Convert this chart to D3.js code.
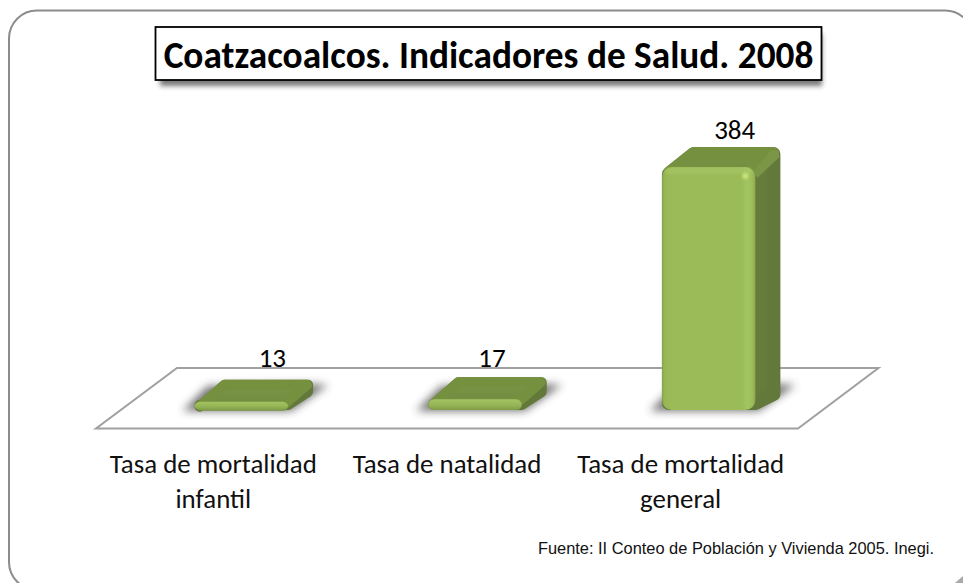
<!DOCTYPE html>
<html><head><meta charset="utf-8">
<script src="https://cdn.jsdelivr.net/npm/d3@7"></script>
<style>html,body{margin:0;padding:0;background:#fff;overflow:hidden}svg{display:block}</style>
</head><body><svg id="c" width="963" height="583"></svg>
<script>
const chartTitle = "Coatzacoalcos. Indicadores de Salud. 2008";
const categories = ["Tasa de mortalidad infantil", "Tasa de natalidad", "Tasa de mortalidad general"];
const categoryLines = [["Tasa de mortalidad","infantil"],["Tasa de natalidad"],["Tasa de mortalidad","general"]];
const values = [13, 17, 384];
const sourceNote = "Fuente: II Conteo de Población y Vivienda 2005. Inegi.";

const font = "Carlito, Calibri, Lato, 'Open Sans', sans-serif";
const svg = d3.select("#c");
const x = d3.scaleBand().domain(categories).range([124.5, 825.5]).paddingInner(0.6).paddingOuter(0.3);
const y = d3.scaleLinear().domain([0, 384]).range([410, 167]);
const dx = 25, dy = -20;
const labelShift = [31, 17, 26];

const defs = svg.append("defs");
const blur = (id, s) => defs.append("filter").attr("id", id).attr("x","-30%").attr("y","-60%").attr("width","160%").attr("height","220%")
  .append("feGaussianBlur").attr("stdDeviation", s);
blur("b4", 4.5); blur("b2", 2.4); blur("b1", 1); blur("soft", 0.45);
const grad = (id, stops, x2=1, y2=0) => {
  const g = defs.append("linearGradient").attr("id", id).attr("x1",0).attr("y1",0).attr("x2",x2).attr("y2",y2);
  stops.forEach(([o,c]) => g.append("stop").attr("offset",o).attr("stop-color",c));
};
grad("front", [[0,"#86a34c"],[0.03,"#98b758"],[0.1,"#9bbb59"],[0.85,"#9bbb59"],[0.92,"#a3c562"],[0.97,"#9cbc5a"],[1,"#88a64e"]]);
grad("side", [[0,"#5f7536"],[0.5,"#64793a"],[1,"#667c3c"]]);
grad("top", [[0,"#7a9646"],[1,"#718a40"]], 0, 1);
grad("cap", [[0,"#a5c361"],[0.6,"#94b354"],[1,"#7f9c48"]], 0, 1);

// frame (runs past the right and bottom of the picture)
svg.append("rect").attr("x",9).attr("y",10.5).attr("width",964).attr("height",579.5).attr("rx",28)
  .attr("fill","#fff").attr("stroke","#8c8c8c").attr("stroke-width",2);
svg.append("path").attr("d","M963 576 L963 583 L955 583 Z").attr("fill","#8c8c8c").attr("opacity",.75);

// title
svg.append("rect").attr("x",160).attr("y",34).attr("width",662).attr("height",52).attr("fill","#222").attr("opacity",.6).attr("filter","url(#b2)");
svg.append("rect").attr("x",155.5).attr("y",27).attr("width",666).attr("height",53).attr("fill","#fff").attr("stroke","#000").attr("stroke-width",1.8);
svg.append("text").attr("x",488.5).attr("y",68).attr("text-anchor","middle").attr("font-family",font).attr("font-weight",700).attr("font-size",37.3).attr("fill","#000").text(chartTitle);

// floor
svg.append("path").attr("d",d3.line()([[177,368],[878.5,368],[798,428.5],[96,428.5]])+"Z").attr("fill","#fff").attr("stroke","#a0a0a0").attr("stroke-width",2);

// bars
const poly = d3.line();
const bars = svg.append("g").selectAll("g").data(categories).join("g");
bars.each(function(c, i) {
  const g = d3.select(this), l = x(c), r = l + x.bandwidth(), t = y(values[i]), b = y(0), h = b - t;
  const tall = h > 30;
  const lift = tall ? 0 : 2;
  // floor shadow
  g.append("path").attr("d", poly([[l-12,b+1],[r+3,b+1],[r+dx+15,b-25],[r+dx-8,b-26],[l+dx-12,b-24]])+"Z")
    .attr("fill","#333").attr("opacity",.68).attr("filter","url(#b4)");
  const body = g.append("g").attr("filter","url(#soft)");
  const ins = tall ? 7 : 5;
  const ty = t + dy - lift;
  // silhouette of the back: side face, rounded by a thick round-joined stroke
  body.append("path").attr("d", poly([[l+ins,t+ins],[l+dx+ins,ty+ins],[r+dx-ins,ty+ins],[r+dx-ins,b+dy+ins-3],[r,b-ins],[l+ins,b-ins]])+"Z")
    .attr("fill","url(#side)").attr("stroke","#64793a").attr("stroke-width",ins*2).attr("stroke-linejoin","round");
  // top face
  body.append("path").attr("d", poly([[l+ins+1,t+ins-1],[l+dx+ins,ty+ins],[r+dx-ins-1,ty+ins],[r-ins,t+ins-1]])+"Z")
    .attr("fill","url(#top)").attr("stroke","#75913f").attr("stroke-width",ins*2).attr("stroke-linejoin","round");
  if (tall) {
    body.append("path").attr("d", poly([[r-2,t+4],[r+dx-9,ty+3],[r+dx-2,ty+4],[r+dx-1,ty+10],[r+2,t+11]])+"Z").attr("fill","#7b9647");
  } else {
    body.append("path").attr("d", poly([[r-2,b-1],[r+dx-1,b+dy-1],[r+dx-1,ty+11],[r-3,t+8]])+"Z").attr("fill","#64793a");
  }
  // front face
  const capH = tall ? h : Math.max(h, 8);
  body.append("rect").attr("x",l).attr("y",b-capH).attr("width",r-l).attr("height",capH).attr("rx",tall?10:6).attr("ry",tall?10:capH/2)
    .attr("fill", tall ? "url(#front)" : "url(#cap)");
  if (tall) {
    body.append("rect").attr("x",l+4).attr("y",t+1).attr("width",r-l-8).attr("height",6).attr("rx",3).attr("fill","#aac768").attr("opacity",.55).attr("filter","url(#b1)");
    body.append("circle").attr("cx",r-10).attr("cy",t+9).attr("r",3).attr("fill","#c8e37a").attr("filter","url(#b1)");
  }
  // data label
  g.append("text").attr("x",(l+r)/2+labelShift[i]).attr("y",tall?t+dy-8:367)
    .attr("text-anchor","middle").attr("font-family",font).attr("font-size",27).attr("fill","#000").text(values[i]);
  // category label
  const t2 = g.append("text").attr("text-anchor","middle").attr("font-family",font).attr("font-size",26.9).attr("fill","#111");
  categoryLines[i].forEach((s,k) => t2.append("tspan").attr("x",(l+r)/2-28).attr("y",473+k*35).text(s));
});

// source
svg.append("text").attr("x",934).attr("y",554).attr("text-anchor","end").attr("font-family","'Liberation Sans',Arial,sans-serif").attr("font-size",16.4).attr("fill","#111").text(sourceNote);
</script></body></html>
